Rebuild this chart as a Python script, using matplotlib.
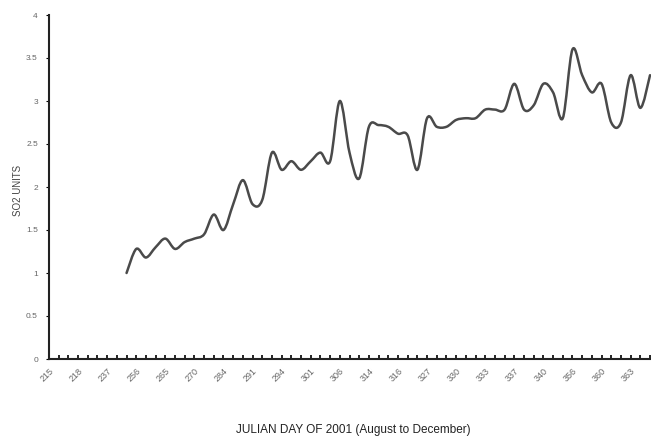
import numpy as np
import matplotlib
matplotlib.use("Agg")
import matplotlib.pyplot as plt
from matplotlib.path import Path
from matplotlib.patches import PathPatch

plt.rcParams['font.family'] = ['Liberation Sans', 'DejaVu Sans']

# category axis: 63 daily slots, labelled every 3rd
tick_labels = ["215", "218", "237", "256", "265", "270", "284", "291", "294", "301", "306",
               "314", "316", "327", "330", "333", "337", "340", "356", "360", "363"]
n_cat = 63
first_cat = 8

so2 = [1.0, 1.28, 1.18, 1.3, 1.4, 1.28, 1.36, 1.4, 1.45, 1.68,
       1.5, 1.8, 2.08, 1.8, 1.85, 2.4, 2.2, 2.3, 2.2, 2.3,
       2.4, 2.3, 3.0, 2.4, 2.1, 2.7, 2.72, 2.7, 2.62, 2.6,
       2.2, 2.8, 2.7, 2.7, 2.78, 2.8, 2.8, 2.9, 2.9, 2.9,
       3.2, 2.9, 2.95, 3.2, 3.1, 2.8, 3.6, 3.3, 3.1, 3.2,
       2.75, 2.75, 3.3, 2.92, 3.3]

fig = plt.figure(figsize=(6.51, 4.42), dpi=100)
ax = fig.add_axes([49 / 651, 83 / 442, 602 / 651, 344 / 442])

x = np.arange(first_cat, first_cat + len(so2))
y = np.array(so2, dtype=float)

# smoothed line (Catmull-Rom segments drawn as cubic Bezier)
verts = [(x[0], y[0])]
codes = [Path.MOVETO]
for k in range(len(x) - 1):
    p0 = np.array([x[max(k - 1, 0)], y[max(k - 1, 0)]])
    p1 = np.array([x[k], y[k]])
    p2 = np.array([x[k + 1], y[k + 1]])
    p3 = np.array([x[min(k + 2, len(x) - 1)], y[min(k + 2, len(x) - 1)]])
    c1 = p1 + (p2 - p0) / 6
    c2 = p2 - (p3 - p1) / 6
    verts += [tuple(c1), tuple(c2), tuple(p2)]
    codes += [Path.CURVE4] * 3
ax.add_patch(PathPatch(Path(verts, codes), facecolor='none', edgecolor='#4a4a4a',
                       lw=1.8, capstyle='round', joinstyle='round'))

ax.set_xlim(0, 62.1)
ax.set_ylim(0, 4)

for s in ['top', 'right']:
    ax.spines[s].set_visible(False)
ax.spines['left'].set_linewidth(1.5)
ax.spines['bottom'].set_linewidth(1.5)
ax.spines['left'].set_color('#222222')
ax.spines['bottom'].set_color('#222222')

ax.set_yticks(np.arange(0, 4.01, 0.5))
ax.set_yticklabels(["0", "0.5", "1", "1.5", "2", "2.5", "3", "3.5", "4"])
ax.tick_params(axis='y', direction='out', length=2, width=0.8, labelsize=6,
               labelcolor='#666666', pad=6)

ax.set_xticks(np.arange(0, n_cat, 3))
ax.set_xticklabels(tick_labels, rotation=45, ha='right', rotation_mode='anchor')
ax.set_xticks(np.arange(0, n_cat), minor=True)
ax.tick_params(axis='x', which='both', direction='in', length=3, width=1.2,
               labelsize=6.5, labelcolor='#666666', pad=5)

ax.set_ylabel("SO2 UNITS", fontsize=7, color='#444444')
ax.yaxis.set_label_coords(-26 / 602, 0.49)
fig.text(353 / 651, 1 - 430 / 442, "JULIAN DAY OF 2001 (August to December)",
         ha='center', va='center', fontsize=8.5, color='#222222')

fig.savefig("out.png", dpi=100)
